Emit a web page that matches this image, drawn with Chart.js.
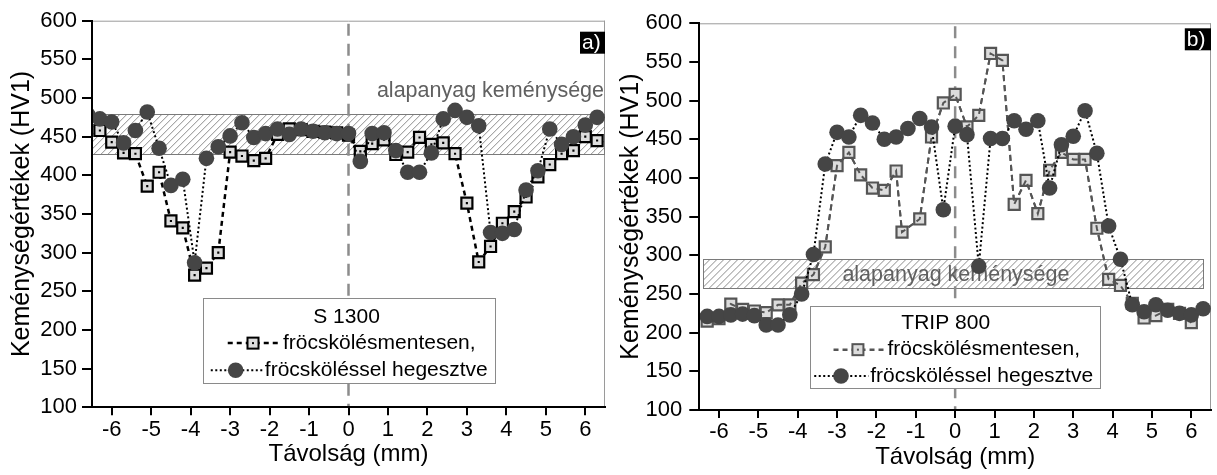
<!DOCTYPE html>
<html>
<head>
<meta charset="utf-8">
<script src="https://cdn.jsdelivr.net/npm/chart.js@4.4.1/dist/chart.umd.min.js"></script>
<style>
  html, body { margin: 0; padding: 0; background: #fff; overflow: hidden; }
  #wrap { position: relative; width: 1217px; height: 475px; overflow: hidden; }
  #ca { position: absolute; left: 0; top: 0; }
  #cb { position: absolute; left: 615px; top: 0; }
</style>
</head>
<body>
<div id="wrap">
  <canvas id="ca" width="615" height="475"></canvas>
  <canvas id="cb" width="606" height="475"></canvas>
</div>
<script>
// tengelyek
const xTicks = [-6, -5, -4, -3, -2, -1, 0, 1, 2, 3, 4, 5, 6];
const yTicks = [100, 150, 200, 250, 300, 350, 400, 450, 500, 550, 600];

// a) S 1300 - fröcskölésmentesen (négyzetek)
const xSqA = [-6.3, -6.0, -5.7, -5.4, -5.1, -4.8, -4.5, -4.2, -3.9, -3.6, -3.3, -3.0, -2.7, -2.4, -2.1,
  -1.8, -1.5, -1.2, -0.9, -0.6, -0.3, 0, 0.3, 0.6, 0.9, 1.2, 1.5, 1.8, 2.1, 2.4, 2.7, 3.0, 3.3, 3.6,
  3.9, 4.2, 4.5, 4.8, 5.1, 5.4, 5.7, 6.0, 6.3];
const sqA = [458, 443, 429, 428, 386, 404, 341, 332, 271, 280, 300, 430, 425, 419, 422,
  453, 460, 459, 457, 456, 455, 452, 431, 441, 446, 427, 430, 449, 440, 442, 428, 364, 288, 308,
  338, 353, 372, 398, 414, 428, 432, 450, 445];

// a) S 1300 - fröcsköléssel hegesztve (körök)
const xCiA = [-6.6, -6.3, -6.0, -5.7, -5.4, -5.1, -4.8, -4.5, -4.2, -3.9, -3.6, -3.3, -3.0, -2.7, -2.4,
  -2.1, -1.8, -1.5, -1.2, -0.9, -0.6, -0.3, 0, 0.3, 0.6, 0.9, 1.2, 1.5, 1.8, 2.1, 2.4, 2.7, 3.0, 3.3,
  3.6, 3.9, 4.2, 4.5, 4.8, 5.1, 5.4, 5.7, 6.0, 6.3];
const ciA = [478, 473, 469, 442, 458, 482, 435, 387, 395, 287, 422, 437, 451, 468, 449,
  454, 460, 453, 460, 457, 455, 454, 454, 418, 454, 455, 432, 404, 404, 429, 473, 484, 475, 464,
  326, 325, 330, 381, 406, 460, 440, 450, 465, 475];

// b) TRIP 800 - fröcskölésmentesen (négyzetek)
const xSqB = [-6.3, -6.0, -5.7, -5.4, -5.1, -4.8, -4.5, -4.2, -3.9, -3.6, -3.3, -3.0, -2.7, -2.4, -2.1,
  -1.8, -1.5, -1.35, -0.9, -0.6, -0.3, 0, 0.3, 0.6, 0.9, 1.2, 1.5, 1.8, 2.1, 2.4, 2.7, 3.0, 3.3, 3.6,
  3.9, 4.2, 4.5, 4.8, 5.1, 5.4, 5.7, 6.0];
const sqB = [215, 218, 237, 230, 228, 226, 236, 236, 264, 275, 311, 416, 433, 404, 387,
  384, 409, 330, 347, 453, 497, 508, 466, 481, 561, 552, 366, 397, 354, 410, 433, 424, 424, 335,
  269, 261, 238, 219, 222, 230, 225, 213];

// b) TRIP 800 - fröcsköléssel hegesztve (körök)
const xCiB = [-6.3, -6.0, -5.7, -5.4, -5.1, -4.8, -4.5, -4.2, -3.9, -3.6, -3.3, -3.0, -2.7, -2.4, -2.1,
  -1.8, -1.5, -1.2, -0.9, -0.6, -0.3, 0, 0.3, 0.6, 0.9, 1.2, 1.5, 1.8, 2.1, 2.4, 2.7, 3.0, 3.3, 3.6,
  3.9, 4.2, 4.5, 4.8, 5.1, 5.4, 5.7, 6.0, 6.3];
const ciB = [221, 221, 223, 224, 222, 210, 210, 223, 250, 301, 418, 459, 453, 481, 471,
  450, 453, 464, 477, 466, 359, 467, 456, 286, 451, 451, 474, 463, 474, 387, 443, 454, 487, 432,
  338, 295, 236, 227, 236, 229, 225, 223, 231];

// alapanyag keménysége sáv (HV1)
const bandA = [427, 479];
const bandB = [257, 295];
const bandBx = [-6.4, 6.32];

const FONT = '"Liberation Sans", Arial, Helvetica, sans-serif';
Chart.defaults.font.family = FONT;
Chart.defaults.color = '#000';

const pts = (xs, ys) => xs.map((x, i) => ({ x: x, y: ys[i] }));

function drawSquare(ctx, x, y, s, stroke, fill) {
  ctx.fillStyle = fill;
  ctx.fillRect(x - s / 2, y - s / 2, s, s);
  ctx.strokeStyle = stroke;
  ctx.lineWidth = 2;
  ctx.setLineDash([]);
  ctx.strokeRect(x - s / 2, y - s / 2, s, s);
  ctx.fillStyle = stroke;
  ctx.fillRect(x - 1, y - 1, 2, 2);
}

// háttér: sáv, középvonal, keret, felirat + jelmagyarázat
function panelPlugin(cfg) {
  return {
    id: 'panel_' + cfg.tag,
    beforeDatasetsDraw(chart) {
      const { ctx, chartArea: a, scales: { x, y } } = chart;
      ctx.save();
      // felső / jobb keret
      ctx.strokeStyle = '#9a9a9a';
      ctx.lineWidth = 1;
      ctx.beginPath();
      ctx.moveTo(a.left, a.top + 0.5);
      ctx.lineTo(a.right, a.top + 0.5);
      ctx.moveTo(a.right - 0.5, a.top);
      ctx.lineTo(a.right - 0.5, a.bottom);
      ctx.stroke();

      // sáv
      const bx0 = cfg.bandX ? x.getPixelForValue(cfg.bandX[0]) : a.left;
      const bx1 = cfg.bandX ? x.getPixelForValue(cfg.bandX[1]) : a.right;
      const by0 = y.getPixelForValue(cfg.band[1]);
      const by1 = y.getPixelForValue(cfg.band[0]);
      const h = by1 - by0;
      ctx.save();
      ctx.beginPath();
      ctx.rect(bx0, by0, bx1 - bx0, h);
      ctx.clip();
      ctx.strokeStyle = '#8c8c8c';
      ctx.lineWidth = 1;
      ctx.beginPath();
      for (let s = bx0 - h; s < bx1 + h; s += 7) {
        ctx.moveTo(s, by1);
        ctx.lineTo(s + h, by0);
      }
      ctx.stroke();
      ctx.restore();
      ctx.strokeStyle = '#7a7a7a';
      ctx.strokeRect(Math.round(bx0) + 0.5, Math.round(by0) + 0.5, Math.round(bx1 - bx0) - 1, Math.round(h));

      // szaggatott középvonal
      const x0 = x.getPixelForValue(0);
      ctx.strokeStyle = '#8c8c8c';
      ctx.lineWidth = 2.5;
      ctx.setLineDash([12, 8]);
      ctx.beginPath();
      ctx.moveTo(x0, a.top + 3);
      ctx.lineTo(x0, a.bottom);
      ctx.stroke();
      ctx.setLineDash([]);

      // alapanyag keménysége
      ctx.fillStyle = '#606060';
      ctx.font = '21.5px ' + FONT;
      ctx.textBaseline = 'middle';
      if (cfg.labelAlign === 'right') {
        ctx.textAlign = 'right';
        ctx.fillText('alapanyag keménysége', a.right - 1, y.getPixelForValue(cfg.labelY));
      } else {
        ctx.textAlign = 'center';
        ctx.fillText('alapanyag keménysége', x.getPixelForValue(cfg.labelX), y.getPixelForValue(cfg.labelY));
      }
      ctx.restore();
    },
    afterDatasetsDraw(chart) {
      const { ctx, chartArea: a, scales: { x, y } } = chart;
      const L = cfg.legend;
      const px = v => x.getPixelForValue(v);
      const py = v => y.getPixelForValue(v);
      ctx.save();
      // jelmagyarázat doboz
      const l = Math.round(px(L.box[0])) + 0.5, r = Math.round(px(L.box[1])) + 0.5;
      const t = Math.round(py(L.box[3])) + 0.5, b = Math.round(py(L.box[2])) + 0.5;
      ctx.fillStyle = '#fff';
      ctx.fillRect(l, t, r - l, b - t);
      ctx.strokeStyle = '#8a8a8a';
      ctx.lineWidth = 1;
      ctx.strokeRect(l, t, r - l, b - t);

      ctx.font = '21px ' + FONT;
      ctx.fillStyle = '#000';
      ctx.textBaseline = 'middle';
      ctx.textAlign = 'center';
      ctx.fillText(L.title, px(L.titleX), py(L.titleY));

      // 1. sor: négyzet, szaggatott
      let ry = py(L.row1.y);
      ctx.strokeStyle = cfg.sqStroke;
      ctx.lineWidth = 2.5;
      ctx.setLineDash([5, 4]);
      ctx.beginPath();
      ctx.moveTo(px(L.row1.line[0]), ry);
      ctx.lineTo(px(L.row1.line[1]), ry);
      ctx.stroke();
      drawSquare(ctx, px(L.row1.mark), ry, 11, cfg.sqStroke, '#dcdcdc');
      ctx.fillStyle = '#000';
      ctx.textAlign = 'left';
      ctx.fillText('fröcskölésmentesen,', px(L.row1.text), ry);

      // 2. sor: kör, pontozott
      ry = py(L.row2.y);
      ctx.strokeStyle = '#000';
      ctx.lineWidth = 2;
      ctx.setLineDash([2, 2.5]);
      ctx.beginPath();
      ctx.moveTo(px(L.row2.line[0]), ry);
      ctx.lineTo(px(L.row2.line[1]), ry);
      ctx.stroke();
      ctx.setLineDash([]);
      ctx.fillStyle = '#454545';
      ctx.beginPath();
      ctx.arc(px(L.row2.mark), ry, 7.8, 0, Math.PI * 2);
      ctx.fill();
      ctx.fillStyle = '#000';
      ctx.fillText('fröcsköléssel hegesztve', px(L.row2.text), ry);

      // panel jelölés a) / b)
      ctx.fillStyle = '#000';
      ctx.fillRect(a.right - cfg.tagBox[0], a.top + cfg.tagBox[1], cfg.tagBox[0], cfg.tagBox[2]);
      ctx.fillStyle = '#fff';
      ctx.textAlign = 'left';
      ctx.font = '21px ' + FONT;
      ctx.fillText(cfg.tag + ')', a.right - cfg.tagBox[0] + 2, a.top + cfg.tagBox[1] + cfg.tagBox[2] / 2 + 1);
      ctx.restore();
    }
  };
}

function makeChart(id, o) {
  const circleSet = {
    label: 'fröcsköléssel hegesztve',
    data: pts(o.xc, o.c),
    showLine: true,
    order: 0,
    clip: 0,
    borderColor: '#000',
    borderWidth: 2,
    borderDash: [2, 2.5],
    tension: 0,
    pointStyle: 'circle',
    pointRadius: 7.8,
    pointBackgroundColor: '#454545',
    pointBorderColor: '#454545',
    pointBorderWidth: 0
  };
  const squareSet = {
    label: 'fröcskölésmentesen,',
    data: pts(o.xs, o.s),
    showLine: true,
    order: 2,
    clip: 0,
    borderColor: o.sqStroke,
    borderWidth: o.sqLine,
    borderDash: o.sqDash,
    tension: 0,
    pointStyle: 'rect',
    pointRadius: 7.8,
    pointBackgroundColor: '#dcdcdc',
    pointBorderColor: o.sqStroke,
    pointBorderWidth: 2.2
  };
  // a négyzetek közepén látszó jel
  const markSet = o.overlay ? {
    data: pts(o.xs, o.s),
    showLine: true,
    order: 1,
    clip: 0,
    borderColor: o.sqStroke,
    borderWidth: 2,
    borderDash: o.sqDash,
    tension: 0,
    pointRadius: 0
  } : {
    data: pts(o.xs, o.s),
    showLine: false,
    order: 1,
    clip: 0,
    pointStyle: 'rect',
    pointRadius: 1.5,
    pointBackgroundColor: '#000',
    pointBorderWidth: 0
  };

  return new Chart(document.getElementById(id), {
    type: 'scatter',
    data: { datasets: [circleSet, markSet, squareSet] },
    options: {
      responsive: false,
      animation: false,
      events: [],
      layout: { padding: { top: o.padTop, right: o.padRight, left: 0, bottom: 0 } },
      plugins: { legend: { display: false }, tooltip: { enabled: false } },
      scales: {
        x: {
          type: 'linear',
          min: -6.5,
          max: 6.5,
          afterBuildTicks: s => { s.ticks = xTicks.map(v => ({ value: v })); },
          afterFit: s => { s.height = o.xAxisH; },
          grid: { display: true, drawOnChartArea: false, drawTicks: true, tickLength: 8, color: '#000', lineWidth: 2, z: 1 },
          border: { display: true, color: '#000', width: 2, z: 1 },
          ticks: { font: { size: 22 }, padding: 1, maxRotation: 0, autoSkip: false, color: '#000' },
          title: { display: true, text: 'Távolság (mm)', font: { size: 24, lineHeight: 1 }, padding: { top: 0, bottom: o.xTitlePad }, color: '#000' }
        },
        y: {
          min: 100,
          max: 600,
          afterBuildTicks: s => { s.ticks = yTicks.map(v => ({ value: v })); },
          afterFit: s => { s.width = o.yAxisW; },
          grid: { display: true, drawOnChartArea: false, drawTicks: true, tickLength: 10, color: '#000', lineWidth: 2, z: 1 },
          border: { display: true, color: '#000', width: 2, z: 1 },
          ticks: { font: { size: 22 }, padding: o.yPad, color: '#000' },
          title: { display: true, text: 'Keménységértékek (HV1)', font: { size: 25 }, padding: { top: o.yTitlePad, bottom: 0 }, color: '#000' }
        }
      }
    },
    plugins: [panelPlugin(o.panel)]
  });
}

makeChart('ca', {
  xs: xSqA, s: sqA, xc: xCiA, c: ciA,
  sqStroke: '#000', sqLine: 2.5, sqDash: [5, 4], overlay: false,
  padTop: 20.7, padRight: 2, xAxisH: 67.7, xTitlePad: 9, yAxisW: 92, yPad: 5, yTitlePad: 7.5,
  panel: {
    tag: 'a', tagBox: [25, 11, 22],
    band: bandA, labelAlign: 'right', labelY: 509.5,
    sqStroke: '#000',
    legend: {
      box: [-3.68, 3.72, 132, 241], title: 'S 1300', titleX: -0.05, titleY: 217,
      row1: { y: 183, line: [-3.06, -1.73], mark: -2.42, text: -1.66 },
      row2: { y: 148, line: [-3.49, -2.17], mark: -2.86, text: -2.12 }
    }
  }
});

makeChart('cb', {
  xs: xSqB, s: sqB, xc: xCiB, c: ciB,
  sqStroke: '#555', sqLine: 2, sqDash: [6, 4], overlay: true,
  padTop: 23.3, padRight: 2.2, xAxisH: 65, xTitlePad: 6, yAxisW: 84.3, yPad: 7, yTitlePad: 1,
  panel: {
    tag: 'b', tagBox: [26.2, 5, 22],
    band: bandB, bandX: bandBx, labelAlign: 'center', labelX: 0.02, labelY: 275,
    sqStroke: '#555',
    legend: {
      box: [-3.68, 3.68, 128, 234.5], title: 'TRIP 800', titleX: -0.24, titleY: 212,
      row1: { y: 178, line: [-3.09, -1.82], mark: -2.47, text: -1.72 },
      row2: { y: 144, line: [-3.58, -2.2], mark: -2.9, text: -2.16 }
    }
  }
});
</script>
</body>
</html>
